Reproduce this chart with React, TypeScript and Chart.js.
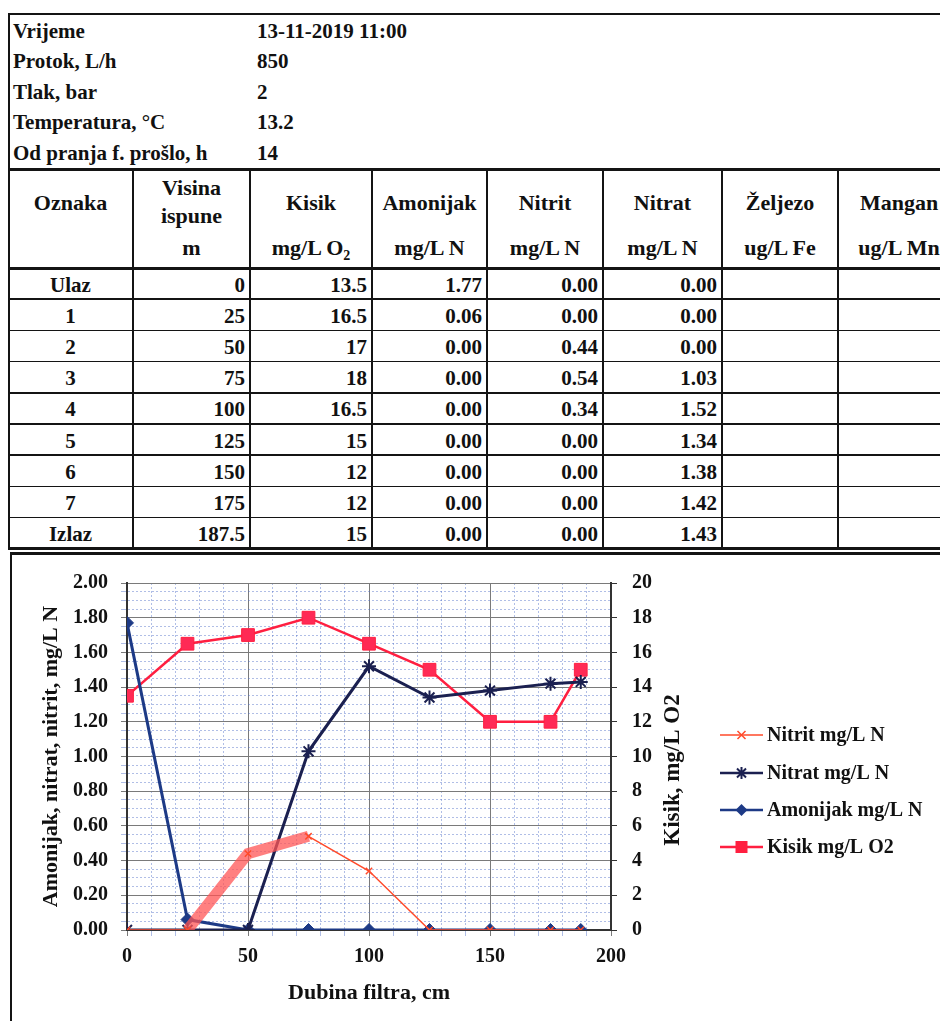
import React, { useEffect, useRef } from 'react';
import { Chart, registerables } from 'chart.js';

Chart.register(...registerables);

// ---------- data ----------
const infoLabels = ['Vrijeme', 'Protok, L/h', 'Tlak, bar', 'Temperatura, °C', 'Od pranja f. prošlo, h'];
const infoValues = ['13-11-2019 11:00', '850', '2', '13.2', '14'];

const rowLabels = ['Ulaz', '1', '2', '3', '4', '5', '6', '7', 'Izlaz'];
const depths = [0, 25, 50, 75, 100, 125, 150, 175, 187.5];
const kisik = [13.5, 16.5, 17, 18, 16.5, 15, 12, 12, 15];
const amonijak = [1.77, 0.06, 0, 0, 0, 0, 0, 0, 0];
const nitrit = [0, 0, 0.44, 0.54, 0.34, 0, 0, 0, 0];
const nitrat = [0, 0, 0, 1.03, 1.52, 1.34, 1.38, 1.42, 1.43];

const xTitle = 'Dubina filtra, cm';
const yLeftTitle = 'Amonijak, nitrat, nitrit, mg/L N';
const yRightTitle = 'Kisik, mg/L O2';

const seriesNames = ['Nitrit mg/L N', 'Nitrat mg/L N', 'Amonijak mg/L N', 'Kisik mg/L O2'];

// ---------- styles ----------
const FONT = "'Liberation Serif', 'Times New Roman', serif";
const C_NITRIT = '#ff4a2a';
const C_NITRAT = '#1b2050';
const C_AMON = '#1d3a86';
const C_KISIK = '#ff1f40';
const MAJOR = '#7a7a7a';
const MINOR = 'rgba(80,110,200,0.45)';

const colX = [8, 133, 250, 372, 487, 603, 722, 838, 960];
const HEAD_TOP = 169;
const HEAD_BOTTOM = 268;
const ROW_H = 31.2;

function HLine({ x, y, w, h = 2 }: { x: number; y: number; w: number; h?: number }) {
  return <div style={{ position: 'absolute', left: x, top: y - h / 2, width: w, height: h, background: '#141414' }} />;
}
function VLine({ x, y, h, w = 2 }: { x: number; y: number; h: number; w?: number }) {
  return <div style={{ position: 'absolute', left: x - w / 2, top: y, width: w, height: h, background: '#141414' }} />;
}

function Txt({ x, w, cy, align, children, size = 21 }: any) {
  return (
    <div
      style={{
        position: 'absolute',
        left: x,
        width: w,
        top: cy - 13,
        height: 26,
        lineHeight: '26px',
        fontFamily: FONT,
        fontWeight: 'bold',
        fontSize: size,
        color: '#111',
        textAlign: align,
        whiteSpace: 'nowrap',
        overflow: 'visible',
      }}
    >
      {children}
    </div>
  );
}

function drawMarker(ctx: CanvasRenderingContext2D, style: string, x: number, y: number, r: number, color: string) {
  ctx.save();
  ctx.fillStyle = color;
  ctx.strokeStyle = color;
  ctx.lineWidth = 2;
  ctx.beginPath();
  if (style === 'rect') {
    ctx.fillRect(x - r, y - r, 2 * r, 2 * r);
  } else if (style === 'rectRot') {
    ctx.moveTo(x, y - r);
    ctx.lineTo(x + r, y);
    ctx.lineTo(x, y + r);
    ctx.lineTo(x - r, y);
    ctx.closePath();
    ctx.fill();
  } else if (style === 'star') {
    ctx.moveTo(x, y - r); ctx.lineTo(x, y + r);
    const d = r * 0.75;
    ctx.moveTo(x - d, y - d); ctx.lineTo(x + d, y + d);
    ctx.moveTo(x - d, y + d); ctx.lineTo(x + d, y - d);
    ctx.stroke();
  } else if (style === 'crossRot') {
    ctx.lineWidth = 1.5;
    const d = r * 0.8;
    ctx.moveTo(x - d, y - d); ctx.lineTo(x + d, y + d);
    ctx.moveTo(x - d, y + d); ctx.lineTo(x + d, y - d);
    ctx.stroke();
  }
  ctx.restore();
}

const isMajorX = (v: number) => Math.round(v) % 50 === 0;
const isMajorY = (v: number) => Math.round(v * 100) % 20 === 0;

function ChartBox() {
  const ref = useRef<HTMLCanvasElement | null>(null);

  useEffect(() => {
    if (!ref.current) return;
    const pts = (arr: number[]) => depths.map((x, i) => ({ x, y: arr[i] }));

    const legendPlugin = {
      id: 'customDecor',
      afterDraw(chart: any) {
        const ctx: CanvasRenderingContext2D = chart.ctx;
        // right axis title, reading bottom-to-top
        ctx.save();
        ctx.translate(661, 214);
        ctx.rotate(-Math.PI / 2);
        ctx.font = `bold 23px ${FONT}`;
        ctx.fillStyle = '#111';
        ctx.textAlign = 'center';
        ctx.textBaseline = 'middle';
        ctx.fillText(yRightTitle, 0, 0);
        ctx.restore();

        // legend
        const ys = [179, 217, 254, 291];
        const styles = ['crossRot', 'star', 'rectRot', 'rect'];
        const radii = [5, 6, 6, 6];
        chart.data.datasets.forEach((ds: any, i: number) => {
          const y = ys[i];
          ctx.save();
          ctx.strokeStyle = ds.borderColor;
          ctx.lineWidth = i === 0 ? 1.5 : 2.5;
          ctx.beginPath();
          ctx.moveTo(708, y);
          ctx.lineTo(751, y);
          ctx.stroke();
          ctx.restore();
          drawMarker(ctx, styles[i], 729.5, y, radii[i], ds.borderColor);
          ctx.save();
          ctx.font = `bold 20px ${FONT}`;
          ctx.fillStyle = '#111';
          ctx.textAlign = 'left';
          ctx.textBaseline = 'middle';
          ctx.fillText(ds.label, 755, y + 1);
          ctx.restore();
        });
      },
    };

    const tickFont = { family: FONT, size: 20, weight: 'bold' as const };
    const titleFont = { family: FONT, size: 22, weight: 'bold' as const };

    const chart = new Chart(ref.current, {
      type: 'line',
      data: {
        datasets: [
          {
            label: seriesNames[0],
            data: pts(nitrit),
            yAxisID: 'y',
            borderColor: C_NITRIT,
            backgroundColor: C_NITRIT,
            borderWidth: 1.5,
            pointStyle: 'crossRot',
            pointRadius: 4.5,
            pointBorderWidth: 1.5,
            pointBorderColor: C_NITRIT,
            segment: {
              borderWidth: (c: any) => (c.p0DataIndex === 1 || c.p0DataIndex === 2 ? 11 : 1.5),
              borderColor: (c: any) => (c.p0DataIndex === 1 || c.p0DataIndex === 2 ? 'rgba(255,85,85,0.75)' : C_NITRIT),
            },
          } as any,
          {
            label: seriesNames[1],
            data: pts(nitrat),
            yAxisID: 'y',
            borderColor: C_NITRAT,
            backgroundColor: C_NITRAT,
            borderWidth: 3,
            pointStyle: 'star',
            pointRadius: 7,
            pointBorderWidth: 2,
            pointBorderColor: C_NITRAT,
          },
          {
            label: seriesNames[2],
            data: pts(amonijak),
            yAxisID: 'y',
            borderColor: C_AMON,
            backgroundColor: C_AMON,
            borderWidth: 3,
            pointStyle: 'rectRot',
            pointRadius: 6.5,
            pointBorderWidth: 1,
            pointBackgroundColor: C_AMON,
            pointBorderColor: C_AMON,
          },
          {
            label: seriesNames[3],
            data: pts(kisik),
            yAxisID: 'y1',
            borderColor: C_KISIK,
            backgroundColor: C_KISIK,
            borderWidth: 2.5,
            pointStyle: 'rect',
            pointRadius: 9,
            pointBorderWidth: 1,
            pointBackgroundColor: '#ff2a55',
            pointBorderColor: C_KISIK,
          },
        ],
      },
      options: {
        animation: false,
        responsive: false,
        layout: { padding: { left: 22, right: 250, top: 24, bottom: 10 } },
        plugins: { legend: { display: false }, tooltip: { enabled: false } },
        scales: {
          x: {
            type: 'linear',
            min: 0,
            max: 200,
            ticks: {
              stepSize: 10,
              autoSkip: false,
              maxRotation: 0,
              padding: 9,
              color: '#111',
              font: tickFont,
              callback: (v: any) => (isMajorX(Number(v)) ? String(v) : ''),
            },
            grid: {
              color: (c: any) => (c.tick && isMajorX(c.tick.value) ? MAJOR : MINOR),
              lineWidth: 1,
              tickLength: 6,
            },
            border: {
              color: '#333',
              width: 2,
              dash: (c: any) => (c.tick && !isMajorX(c.tick.value) ? [2, 2] : []),
            } as any,
            title: { display: true, text: xTitle, color: '#111', font: titleFont, padding: { top: 4, bottom: 4 } },
            afterFit: (s: any) => {
              s.height = 81;
            },
          },
          y: {
            type: 'linear',
            position: 'left',
            min: 0,
            max: 2,
            ticks: {
              stepSize: 0.05,
              autoSkip: false,
              padding: 13,
              color: '#111',
              font: tickFont,
              callback: (v: any) => (isMajorY(Number(v)) ? Number(v).toFixed(2) : ''),
            },
            grid: {
              color: (c: any) => (c.tick && isMajorY(c.tick.value) ? MAJOR : MINOR),
              lineWidth: 1,
              tickLength: 6,
            },
            border: {
              color: '#333',
              width: 2,
              dash: (c: any) => (c.tick && !isMajorY(c.tick.value) ? [2, 2] : []),
            } as any,
            title: { display: true, text: yLeftTitle, color: '#111', font: titleFont, padding: { top: 4, bottom: 4 } },
            afterFit: (s: any) => {
              s.width = 93;
            },
          },
          y1: {
            type: 'linear',
            position: 'right',
            min: 0,
            max: 20,
            ticks: {
              stepSize: 2,
              autoSkip: false,
              padding: 15,
              color: '#111',
              font: tickFont,
            },
            grid: { drawOnChartArea: false, color: '#333', tickLength: 6 },
            border: { color: '#333', width: 2 },
            title: { display: false },
            afterFit: (s: any) => {
              s.width = 79;
            },
          },
        },
      },
      plugins: [legendPlugin],
    } as any);

    return () => chart.destroy();
  }, []);

  return (
    <div style={{ position: 'absolute', left: 12, top: 556, width: 928, height: 465 }}>
      <canvas ref={ref} width={928} height={465} style={{ width: 928, height: 465, display: 'block' }} />
    </div>
  );
}

export default function App() {
  const infoY = [31, 61, 92, 122, 153];
  const rowTop = (k: number) => HEAD_BOTTOM + k * ROW_H;
  const tableBottom = rowTop(rowLabels.length);

  const headers: any[] = [
    [['Oznaka', 203]],
    [['Visina', 188], ['ispune', 216], ['m', 248]],
    [['Kisik', 203], [<span key="o2">mg/L O<span style={{ fontSize: 14, position: 'relative', top: 5 }}>2</span></span>, 248]],
    [['Amonijak', 203], ['mg/L N', 248]],
    [['Nitrit', 203], ['mg/L N', 248]],
    [['Nitrat', 203], ['mg/L N', 248]],
    [['Željezo', 203], ['ug/L Fe', 248]],
    [['Mangan', 203], ['ug/L Mn', 248]],
  ];

  const cells: any[] = [];
  rowLabels.forEach((lab, k) => {
    const cy = rowTop(k) + ROW_H / 2 + 1;
    const vals = [String(depths[k]), String(kisik[k]), amonijak[k].toFixed(2), nitrit[k].toFixed(2), nitrat[k].toFixed(2)];
    cells.push(
      <Txt key={`l${k}`} x={colX[0]} w={colX[1] - colX[0]} cy={cy} align="center">
        {lab}
      </Txt>
    );
    vals.forEach((v, j) => {
      cells.push(
        <Txt key={`v${k}-${j}`} x={colX[j + 1]} w={colX[j + 2] - colX[j + 1] - 5} cy={cy} align="right">
          {v}
        </Txt>
      );
    });
  });

  return (
    <div style={{ position: 'absolute', left: 0, top: 0, width: 940, height: 1021, overflow: 'hidden', background: '#fff' }}>
      {/* info block */}
      <HLine x={8} y={14} w={932} h={2} />
      {infoLabels.map((l, i) => (
        <Txt key={`il${i}`} x={13} w={240} cy={infoY[i]} align="left" size={21}>
          {l}
        </Txt>
      ))}
      {infoValues.map((v, i) => (
        <Txt key={`iv${i}`} x={257} w={300} cy={infoY[i]} align="left" size={21}>
          {v}
        </Txt>
      ))}

      {/* table lines */}
      <VLine x={9} y={13} h={tableBottom - 13} w={2} />
      <HLine x={8} y={HEAD_TOP} w={932} h={3} />
      <HLine x={8} y={HEAD_BOTTOM} w={932} h={3} />
      {rowLabels.map((_, k) => (k > 0 ? <HLine key={`rl${k}`} x={8} y={rowTop(k)} w={932} h={1.5} /> : null))}
      <HLine x={8} y={tableBottom} w={932} h={3} />
      {colX.slice(1, 8).map((x, i) => (
        <VLine key={`cl${i}`} x={x} y={HEAD_TOP} h={tableBottom - HEAD_TOP} w={2} />
      ))}

      {/* headers */}
      {headers.map((lines, j) =>
        lines.map((ln: any, m: number) => (
          <Txt key={`h${j}-${m}`} x={colX[j]} w={colX[j + 1] - colX[j]} cy={ln[1]} align="center" size={22}>
            {ln[0]}
          </Txt>
        ))
      )}

      {cells}

      {/* chart frame */}
      <HLine x={10} y={553} w={930} h={3} />
      <VLine x={11} y={552} h={469} w={2} />

      <ChartBox />
    </div>
  );
}
